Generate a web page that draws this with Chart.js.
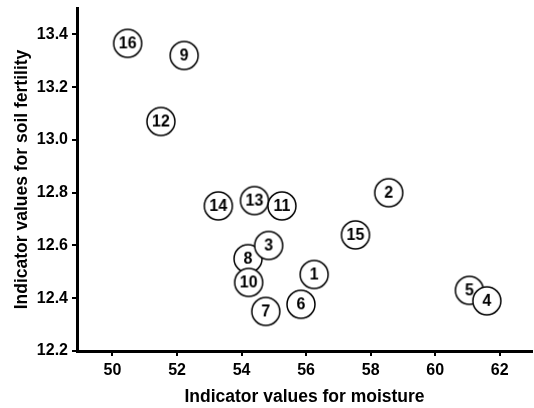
<!DOCTYPE html>
<html>
<head>
<meta charset="utf-8">
<script src="https://cdn.jsdelivr.net/npm/chart.js@4"></script>
<style>
  html, body { margin: 0; padding: 0; background: #fff; }
  #wrap { width: 534px; height: 408px; }
</style>
</head>
<body>
<div id="wrap"><canvas id="plot"></canvas></div>
<script>
// site numbers, drawn in this order (later ones sit on top)
const sites = ['16', '9', '12', '14', '13', '11', '2', '15', '8', '3', '10', '1', '6', '7', '5', '4'];
const moisture = [50.47, 52.22, 51.5, 53.28, 54.4, 55.25, 58.56, 57.53, 54.2, 54.84, 54.22, 56.25, 55.84, 54.75, 61.06, 61.6];
const fertility = [13.366, 13.32, 13.07, 12.75, 12.77, 12.75, 12.8, 12.64, 12.55, 12.6, 12.46, 12.49, 12.377, 12.35, 12.43, 12.39];
const xTicks = [50, 52, 54, 56, 58, 60, 62];
const yTicks = [12.2, 12.4, 12.6, 12.8, 13.0, 13.2, 13.4];

const font = '"Liberation Sans", Arial, sans-serif';

// circle with the site number, used as the point style
function makeMarker(text) {
    const c = document.createElement('canvas');
    c.width = 32;
    c.height = 32;
    const g = c.getContext('2d');
    g.beginPath();
    g.arc(16, 16, 14, 0, Math.PI * 2);
    g.fillStyle = '#fff';
    g.fill();
    g.lineWidth = 1.5;
    g.strokeStyle = '#000';
    g.stroke();
    g.fillStyle = '#000';
    g.font = 'bold 16px ' + font;
    g.textAlign = 'center';
    g.textBaseline = 'middle';
    g.fillText(text, 16, 17);
    return c;
}

function noPad(axis) {
    axis.paddingLeft = 0;
    axis.paddingRight = 0;
    axis.paddingTop = 0;
    axis.paddingBottom = 0;
}

const points = moisture.map((m, i) => ({ x: m, y: fertility[i] }));

new Chart(document.getElementById('plot'), {
    type: 'scatter',
    data: {
        datasets: [{
            data: points,
            pointStyle: sites.map(makeMarker),
            pointRadius: 14,
            pointHoverRadius: 14,
            clip: false
        }]
    },
    options: {
        responsive: true,
        maintainAspectRatio: false,
        animation: false,
        events: [],
        layout: { autoPadding: false, padding: { top: 8, right: 2 } },
        plugins: {
            legend: { display: false },
            tooltip: { enabled: false }
        },
        scales: {
            x: {
                type: 'linear',
                min: 48.9,
                max: 63,
                afterBuildTicks: (axis) => { axis.ticks = xTicks.map(v => ({ value: v })); },
                afterFit: (axis) => { axis.height = 57; noPad(axis); },
                grid: { drawOnChartArea: false, drawTicks: true, tickLength: 5, color: '#000', lineWidth: 2 },
                border: { color: '#000', width: 3 },
                ticks: { color: '#000', padding: 5, font: { family: font, size: 16, weight: 'bold' } },
                title: {
                    display: true,
                    text: 'Indicator values for moisture',
                    color: '#000',
                    font: { family: font, size: 17.5, weight: 'bold' },
                    padding: { top: 12, bottom: 0 }
                }
            },
            y: {
                type: 'linear',
                min: 12.2,
                max: 13.5,
                afterBuildTicks: (axis) => { axis.ticks = yTicks.map(v => ({ value: v })); },
                afterFit: (axis) => { axis.width = 77; noPad(axis); },
                grid: { drawOnChartArea: false, drawTicks: true, tickLength: 5, color: '#000', lineWidth: 2 },
                border: { color: '#000', width: 3 },
                ticks: {
                    color: '#000',
                    padding: 4,
                    font: { family: font, size: 16, weight: 'bold' },
                    callback: (v) => v.toFixed(1)
                },
                title: {
                    display: true,
                    text: 'Indicator values for soil fertility',
                    color: '#000',
                    font: { family: font, size: 17.5, weight: 'bold' },
                    padding: { top: 12, bottom: 0 }
                }
            }
        }
    }
});
</script>
</body>
</html>
